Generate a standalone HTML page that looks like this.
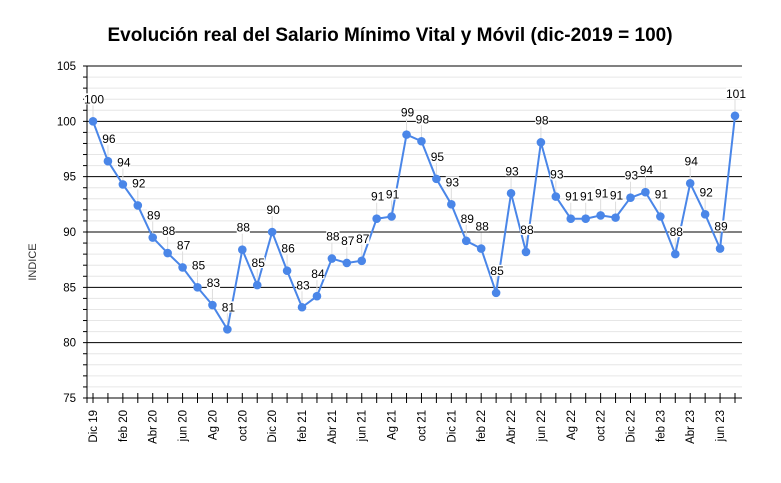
<!DOCTYPE html><html><head><meta charset="utf-8"><style>body{margin:0;background:#fff}svg{display:block;font-family:"Liberation Sans",Arial,sans-serif}</style></head><body>
<svg id="s" width="781" height="483" xmlns="http://www.w3.org/2000/svg">
<rect width="781" height="483" fill="#fff"/>
<text x="390" y="41" text-anchor="middle" font-size="19" font-weight="bold" fill="#000">Evolución real del Salario Mínimo Vital y Móvil (dic-2019 = 100)</text>
<text transform="translate(36,262) rotate(-90)" text-anchor="middle" font-size="11" fill="#333">INDICE</text>
</svg>
<script>
var s=document.getElementById('s'),ns='http://www.w3.org/2000/svg';
function el(t,a,txt){var e=document.createElementNS(ns,t);for(var k in a)e.setAttribute(k,a[k]);if(txt!=null)e.textContent=txt;s.appendChild(e);return e;}
var X0=87,X1=742,yv=function(v){return 398-(v-75)*332/30;};
for(var v=75;v<=105;v++){var y=yv(v);
 if(v%5){el('line',{x1:X0,x2:X1,y1:y,y2:y,stroke:'#e6e6e6','stroke-width':1});el('line',{x1:83,x2:X0,y1:y,y2:y,stroke:'#000'});}
}
for(var v=75;v<=105;v+=5){var y=yv(v);
 el('line',{x1:X0-4,x2:X1,y1:y,y2:y,stroke:'#000','stroke-width':1});
 el('text',{x:76,y:y+4,'text-anchor':'end','font-size':11.5,fill:'#000'},v);}
el('line',{x1:X0,x2:X0,y1:66,y2:403,stroke:'#000'});
var d=[100,96.4,94.3,92.4,89.5,88.1,86.8,85,83.4,81.2,88.4,85.2,90,86.5,83.2,84.2,87.6,87.2,87.4,91.2,91.4,98.8,98.2,94.8,92.5,89.2,88.5,84.5,93.5,88.2,98.1,93.2,91.2,91.2,91.5,91.3,93.1,93.6,91.4,88,94.4,91.6,88.5,100.5];
var lb=[100,96,94,92,89,88,87,85,83,81,88,85,90,86,83,84,88,87,87,91,91,99,98,95,93,89,88,85,93,88,98,93,91,91,91,91,93,94,91,88,94,92,89,101];
var xl=['Dic 19','feb 20','Abr 20','jun 20','Ag 20','oct 20','Dic 20','feb 21','Abr 21','jun 21','Ag 21','oct 21','Dic 21','feb 22','Abr 22','jun 22','Ag 22','oct 22','Dic 22','feb 23','Abr 23','jun 23'];
var xs=function(i){return 93+i*(735-93)/43;};
el('line',{x1:X0,x2:X1,y1:398,y2:398,stroke:'#000'});
for(var i=0;i<44;i++){var x=xs(i);el('line',{x1:x,x2:x,y1:393,y2:403,stroke:'#000'});}
for(var i=0;i<22;i++){var x=xs(2*i);el('text',{transform:'translate('+(x+4)+',410) rotate(-90)','text-anchor':'end','font-size':11.5,fill:'#000'},xl[i]);}
for(var i=0;i<44;i++){var x=xs(i),y=yv(d[i]);el('line',{x1:x,x2:x,y1:y-16,y2:y-4,stroke:'#ddd'});}
var pts=d.map(function(v,i){return xs(i)+','+yv(v)}).join(' ');
el('polyline',{points:pts,fill:'none',stroke:'#4a86e8','stroke-width':2});
for(var i=0;i<44;i++)el('circle',{cx:xs(i),cy:yv(d[i]),r:4.3,fill:'#4a86e8'});
for(var i=0;i<44;i++){var x=xs(i),y=yv(d[i]);
 var t=String(lb[i]),w=t.length*6.6;
 el('rect',{x:x-w/2+1,y:y-28,width:w,height:11,fill:'#fff'});
 el('text',{x:x+1,y:y-18,'text-anchor':'middle','font-size':12,fill:'#000'},t);}
</script>
</body></html>
